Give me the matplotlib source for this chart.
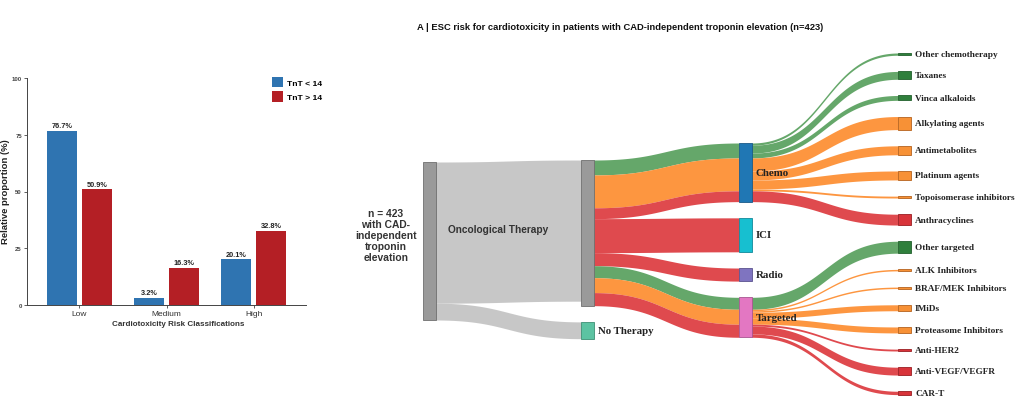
import numpy as np
import matplotlib
matplotlib.use("Agg")
import matplotlib.pyplot as plt

# ------------------------------------------------------------------
# Bar chart data
# ------------------------------------------------------------------
risk_categories = ["Low", "Medium", "High"]
tnt_below_14 = [76.7, 3.2, 20.1]
tnt_above_14 = [50.9, 16.3, 32.8]
series_labels = ["TnT < 14", "TnT > 14"]
y_ticks = [0, 25, 50, 75, 100]

# ------------------------------------------------------------------
# Sankey data
# ------------------------------------------------------------------
node_labels = [
    "n = 423\nwith CAD-\nindependent\ntroponin\nelevation",
    "Oncological Therapy", "No Therapy",
    "Chemo", "ICI", "Radio", "Targeted",
    "Other chemotherapy", "Taxanes", "Vinca alkaloids", "Alkylating agents",
    "Antimetabolites", "Platinum agents", "Topoisomerase inhibitors",
    "Anthracyclines", "Other targeted", "ALK Inhibitors",
    "BRAF/MEK Inhibitors", "IMiDs", "Proteasome Inhibitors", "Anti-HER2",
    "Anti-VEGF/VEGFR", "CAR-T",
]
node_column = [0, 1, 1, 2, 2, 2, 2] + [3] * 16

link_source = [0, 0, 1, 1, 1, 1, 1, 1, 1, 1,
               3, 3, 3, 3, 3, 3, 3, 3,
               6, 6, 6, 6, 6, 6, 6, 6]
link_target = [1, 2, 3, 3, 3, 4, 5, 6, 6, 6,
               7, 8, 9, 10, 11, 12, 13, 14,
               15, 16, 17, 18, 19, 20, 21, 22]
link_value = [378, 45, 40, 88, 29, 91, 35, 32, 40, 35,
              6, 21, 13, 35, 24, 24, 5, 29,
              32, 4, 4, 16, 16, 5, 21, 9]
link_risk = ["none", "none", "low", "medium", "high", "high", "high",
             "low", "medium", "high",
             "low", "low", "low", "medium", "medium", "medium", "medium", "high",
             "low", "medium", "medium", "medium", "medium", "high", "high", "high"]

# ------------------------------------------------------------------
# Styles
# ------------------------------------------------------------------
BLUE = "#2f74b1"
RED = "#b41f25"
link_colors = {"none": "#c3c3c3", "low": "#58a05d", "medium": "#fd8d30",
               "high": "#dd3a3f"}
grey_node = ("#9a9a9a", "#6f6f6f")
node_style = [grey_node, grey_node, ("#5cc3a2", "#3d8f74"),
              ("#2077b4", "#1a5a88"), ("#17bfd0", "#11889a"),
              ("#7f74c0", "#5a528e"), ("#e377c2", "#a85590")]
risk_node = {"low": ("#2f7f3c", "#22602c"), "medium": ("#f79136", "#b5621d"),
             "high": ("#d8343a", "#9a1d21")}
for tgt, risk in zip(link_target, link_risk):
    if node_column[tgt] == 3:
        node_style.append(risk_node[risk])

SANS = ["Liberation Sans", "DejaVu Sans"]
SERIF = ["Liberation Serif", "DejaVu Serif"]

W, H = 1024, 410
fig = plt.figure(figsize=(W / 100, H / 100), dpi=100)
fig.patch.set_facecolor("white")

# ------------------------------------------------------------------
# Sankey (pixel-unit axes covering the figure)
# ------------------------------------------------------------------
ax = fig.add_axes([0, 0, 1, 1])
ax.set_xlim(0, W)
ax.set_ylim(H, 0)
ax.axis("off")
ax.patch.set_alpha(0)

col_left = [423, 581, 739, 898]
col_top = [163, 161, 144, 54]
node_w = 12.5
pad = 16.2
scale = 158.0 / 423.0

n_nodes = len(node_labels)
inflow = np.zeros(n_nodes)
outflow = np.zeros(n_nodes)
for s, t, v in zip(link_source, link_target, link_value):
    outflow[s] += v
    inflow[t] += v
node_val = np.maximum(inflow, outflow)

node_y0 = np.zeros(n_nodes)
node_h = node_val * scale
cursor = {c: col_top[c] for c in range(4)}
for i in range(n_nodes):
    c = node_column[i]
    node_y0[i] = cursor[c]
    cursor[c] += node_h[i] + pad

# link offsets
nlinks = len(link_value)
out_y = np.zeros(nlinks)
in_y = np.zeros(nlinks)
out_cur = node_y0.copy()
in_cur = node_y0.copy()
for k in sorted(range(nlinks), key=lambda k: (link_source[k], link_target[k], k)):
    out_y[k] = out_cur[link_source[k]]
    out_cur[link_source[k]] += link_value[k] * scale
for k in sorted(range(nlinks), key=lambda k: (link_target[k], link_source[k], k)):
    in_y[k] = in_cur[link_target[k]]
    in_cur[link_target[k]] += link_value[k] * scale

t = np.linspace(0, 1, 120)
b0 = (1 - t) ** 3 + 3 * (1 - t) ** 2 * t
b1 = 3 * (1 - t) * t ** 2 + t ** 3
for k in range(nlinks):
    s, tg = link_source[k], link_target[k]
    x0 = col_left[node_column[s]] + node_w
    x1 = col_left[node_column[tg]]
    xm = (x0 + x1) / 2
    xs = (1 - t) ** 3 * x0 + 3 * (1 - t) ** 2 * t * xm + 3 * (1 - t) * t ** 2 * xm + t ** 3 * x1
    th = link_value[k] * scale
    ytop = out_y[k] * b0 + in_y[k] * b1
    ax.fill_between(xs, ytop, ytop + th, color=link_colors[link_risk[k]],
                    alpha=0.92, lw=0, zorder=1)

for i in range(n_nodes):
    fc, ec = node_style[i]
    ax.add_patch(plt.Rectangle((col_left[node_column[i]], node_y0[i]), node_w,
                               node_h[i], facecolor=fc, edgecolor=ec, lw=0.6,
                               zorder=3))
    cy = node_y0[i] + node_h[i] / 2
    if i == 0:
        ax.text(386, cy - 6, node_labels[i], ha="center", va="center",
                fontsize=7.4, fontweight="bold", family=SANS, color="#333333",
                linespacing=1.1, zorder=4)
    elif i == 1:
        ax.text(498, cy - 4, node_labels[i], ha="center", va="center",
                fontsize=7.3, fontweight="bold", family=SANS, color="#333333",
                zorder=4)
    elif node_column[i] == 3:
        ax.text(col_left[3] + node_w + 4.5, cy, node_labels[i], ha="left",
                va="center", fontsize=6.7, fontweight="bold", family=SERIF,
                color="#222222", zorder=4)
    else:
        ax.text(col_left[node_column[i]] + node_w + 4.5, cy, node_labels[i],
                ha="left", va="center", fontsize=7.8, fontweight="bold",
                family=SERIF, color="#222222", zorder=4)

ax.text(417, 27, "A | ESC risk for cardiotoxicity in patients with CAD-independent "
        "troponin elevation (n=423)", ha="left", va="center", fontsize=6.75,
        fontweight="bold", family=SANS, color="#111111")

# ------------------------------------------------------------------
# Bar chart
# ------------------------------------------------------------------
axb = fig.add_axes([27 / W, 1 - 306 / H, 279 / W, 227 / H])
x = np.arange(len(risk_categories))
bw, off = 0.34, 0.2
bars1 = axb.bar(x - off, tnt_below_14, bw, color=BLUE, label=series_labels[0])
bars2 = axb.bar(x + off, tnt_above_14, bw, color=RED, label=series_labels[1])
for bars, vals in ((bars1, tnt_below_14), (bars2, tnt_above_14)):
    axb.bar_label(bars, labels=[f"{v}%" for v in vals], padding=1.2,
                  fontsize=5.3, fontweight="bold", family=SANS, color="#222222")
axb.set_xlim(-0.6, 2.6)
axb.set_ylim(0, 100)
axb.set_yticks(y_ticks)
axb.set_yticklabels([str(v) for v in y_ticks], fontsize=4.3, family=SANS,
                    color="#444444", fontweight="bold")
axb.set_xticks(x)
axb.set_xticklabels(risk_categories, fontsize=6.0, family=SANS, color="#333333")
for sp in ("top", "right"):
    axb.spines[sp].set_visible(False)
for sp in ("left", "bottom"):
    axb.spines[sp].set_color("#444444")
    axb.spines[sp].set_linewidth(0.7)
axb.tick_params(axis="both", length=2.2, width=0.6, color="#444444", pad=1.5)
axb.patch.set_alpha(0)

fig.text(6 / W, 1 - 192 / H, "Relative proportion (%)", rotation=90,
         ha="center", va="center", fontsize=6.8, fontweight="bold",
         family=SANS, color="#222222")
fig.text(178 / W, 1 - 324 / H, "Cardiotoxicity Risk Classifications",
         ha="center", va="center", fontsize=5.8, fontweight="bold",
         family=SANS, color="#333333")

leg = axb.legend(loc="upper left", bbox_to_anchor=((272 - 27) / 279, 1.005),
                 frameon=False, borderpad=0, borderaxespad=0,
                 handlelength=1.3, handleheight=1.55, handletextpad=0.45,
                 labelspacing=0.45, prop={"family": SANS, "size": 6.1,
                                          "weight": "bold"})

fig.savefig("out.png", dpi=100, facecolor="white")
